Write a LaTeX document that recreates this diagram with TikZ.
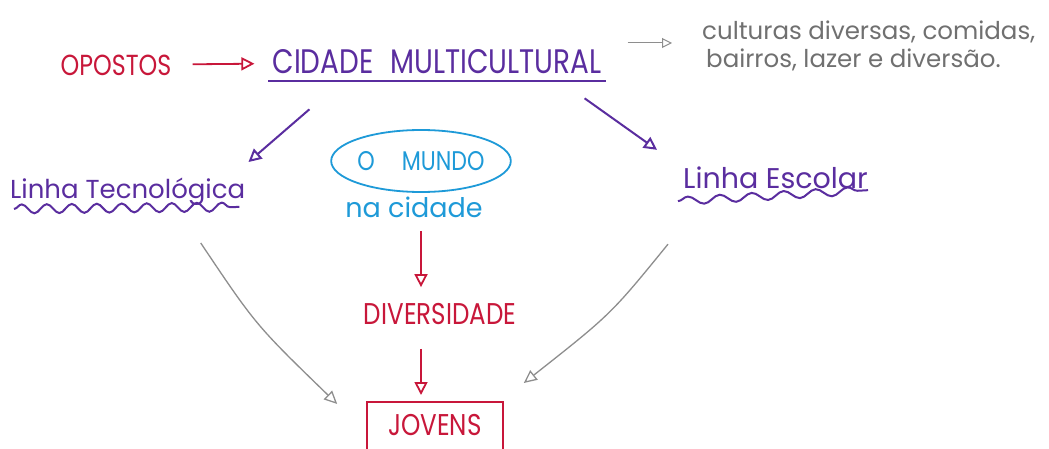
\documentclass[tikz,border=0pt]{standalone}
\usepackage{fontspec}
\setmainfont{Poppins}
\newfontfamily\capsfont[FakeStretch=0.82]{Poppins}
\usepackage{xcolor}
\usetikzlibrary{arrows.meta,positioning,shapes.geometric,calc,decorations.pathmorphing}
\definecolor{mapred}{HTML}{C8173A}
\definecolor{mappurple}{HTML}{5A2D9F}
\definecolor{mapblue}{HTML}{1E9AD8}
\definecolor{mapgray}{HTML}{707070}
\definecolor{mapline}{HTML}{8E8E8E}
\tikzset{
  mapcaps/.style={inner sep=0pt, font=\capsfont\fontsize{28}{32}\selectfont},
  maplower/.style={inner sep=0pt, font=\fontsize{27}{32}\selectfont},
  mapnote/.style={inner sep=0pt, align=left, text=mapgray, font=\fontsize{24.5}{28}\selectfont},
  maparrow/.style={-{Triangle[open, length=13pt, width=13pt]}, line width=1.8pt},
  mapcurve/.style={-{Triangle[open, length=13pt, width=12pt]}, draw=mapline, line width=1.3pt},
  mapwave/.style={draw=mappurple, line width=2pt, decorate, decoration={snake, segment length=25pt, amplitude=4.5pt}}
}
\begin{document}
\begin{tikzpicture}[x=1pt, y=-1pt]
\useasboundingbox (0,0) rectangle (1049,449);
\fill[white] (0,0) rectangle (1049,449);

\node[mapcaps, text=mapred, font=\capsfont\fontsize{29}{32}\selectfont] (opostos) at (116,65) {OPOSTOS};
\node[mapcaps, text=mappurple, font=\capsfont\fontsize{34}{36}\selectfont] (cidade) at (437,62) {CIDADE\enspace MULTICULTURAL};
\draw[draw=mappurple, line width=2pt] ([yshift=-7pt, xshift=-4pt]cidade.south west) -- ([yshift=-7pt, xshift=4pt]cidade.south east);
\draw[maparrow, mapred, shorten <=21pt, shorten >=18pt] (opostos) -- (cidade);

\node[mapnote, anchor=west] (notas) at (702,46) {culturas diversas, comidas,\\\hspace*{4pt}bairros, lazer e diversão.};
\draw[maparrow, mapline, line width=1pt, -{Triangle[open, length=10pt, width=10pt]}] ($(cidade.east)+(26,-19)$) -- ($(notas.west)+(-30,-3)$);

\node[maplower, text=mappurple, anchor=west, font=\fontsize{26}{32}\selectfont] (lintec) at (10,192) {Linha Tecnológica};
\draw[mapwave] ($(lintec.south west)+(4,3)$) -- ($(lintec.south east)+(-6,1)$);
\node[maplower, text=mappurple, anchor=west, font=\fontsize{28.5}{32}\selectfont] (linesc) at (683,178) {Linha Escolar};
\draw[mapwave, decoration={segment length=32pt, amplitude=4pt}] ($(linesc.south west)+(-5,12)$) -- ($(linesc.south east)+(0,1)$);

\draw[maparrow, mappurple, line width=2pt] ($(cidade.south west)+(37,35)$) -- ($(lintec.north east)+(3,-16)$);
\draw[maparrow, mappurple, line width=2pt] ($(cidade.south east)+(-17,24)$) -- ($(linesc.north west)+(-26,-17)$);

\node[mapcaps, ellipse, draw=mapblue, line width=1.8pt, text=mapblue, font=\capsfont\fontsize{27}{28}\selectfont, minimum width=173pt, minimum height=62pt] (mundo) at (421,161) {O\enspace\enspace MUNDO};
\node[maplower, text=mapblue, below=4pt of mundo, xshift=-7pt] (nacidade) {na cidade};

\node[mapcaps, text=mapred, font=\capsfont\fontsize{30}{32}\selectfont] (divers) at (440,314) {DIVERSIDADE};
\node[mapcaps, text=mapred, draw=mapred, line width=1.6pt, font=\capsfont\fontsize{30}{32}\selectfont, minimum width=136pt, minimum height=60pt, text depth=14pt, anchor=north] (jovens) at (435,401) {JOVENS};

\draw[maparrow, mapred, shorten <=13pt, shorten >=16pt] (nacidade.south -| mundo.south) -- (divers.north -| mundo.south);
\draw[maparrow, mapred, shorten <=24pt, shorten >=6pt] (divers.south -| mundo.south) -- (jovens.north -| mundo.south);

\draw[mapcurve] ($(lintec.south)+(73,37)$) .. controls ($(lintec.south)+(128,119)$) .. ($(jovens.north west)+(-29,3)$);
\draw[mapcurve] ($(linesc.south west)+(-15,55)$) .. controls ($(linesc.south west)+(-72,125)$) .. ($(jovens.north east)+(20,-18)$);
\end{tikzpicture}
\end{document}
